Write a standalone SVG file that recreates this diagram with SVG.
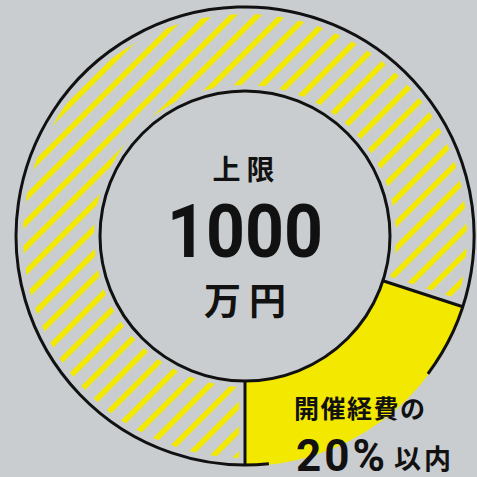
<svg xmlns="http://www.w3.org/2000/svg" width="477" height="477" viewBox="0 0 477 477">
<style>
.ln{fill:none;stroke:#111;stroke-width:3}
.gap{fill:none;stroke:#c9cdcf;stroke-width:12}
.t{fill:#111;font-family:"Noto Sans CJK JP","Noto Sans",sans-serif;font-weight:700}
.n{fill:#111;font-family:Roboto,"Liberation Sans",sans-serif;font-weight:700}
</style>
<defs>
<pattern id="hatch" width="17.5" height="17.5" patternUnits="userSpaceOnUse" patternTransform="rotate(45) translate(-2.1 0)">
<rect x="0" y="0" width="5.5" height="17.5" fill="#f3e800"/>
</pattern>
</defs>
<rect width="477" height="477" fill="#c9cdcf"/>
<g id="ring">
<path d="M245 14 A222 222 0 1 1 244.99 14 Z M245 85 A151 151 0 1 0 245.01 85 Z" fill="url(#hatch)" fill-rule="evenodd"/>
</g>
<g id="connectors">
<line class="gap" x1="245" y1="381" x2="245" y2="466"/>
<line class="gap" x1="382.9" y1="280.8" x2="462.8" y2="306.8"/>
</g>
<g id="share">
<path d="M382.9 280.8 L463.7 307.1 A230 230 0 0 1 245 466 L245 381 A145 145 0 0 0 382.9 280.8 Z" fill="#f3e800"/>
</g>
<g id="outline">
<line class="ln" x1="245" y1="381" x2="245" y2="465"/>
<line class="ln" x1="382.9" y1="280.8" x2="462.8" y2="306.8"/>
<circle class="ln" cx="245" cy="236" r="145"/>
<path class="ln" d="M268.9 463.7 A229 229 0 1 1 427.9 373.8"/>
</g>
<g id="center-label">
<text class="t" x="246.5" y="180" font-size="28" letter-spacing="6" text-anchor="middle">上限</text>
<text class="n" x="245" y="257" font-size="75" text-anchor="middle" textLength="156" lengthAdjust="spacingAndGlyphs">1000</text>
<text class="t" x="249" y="315" font-size="37" letter-spacing="8" text-anchor="middle">万円</text>
</g>
<g id="share-label">
<text class="t" x="294" y="418" font-size="25" letter-spacing="1.5">開催経費の</text>
<text class="n" x="296" y="471" font-size="44" letter-spacing="3">20%</text>
<text class="t" x="394" y="469" font-size="27" letter-spacing="3">以内</text>
</g>
</svg>
